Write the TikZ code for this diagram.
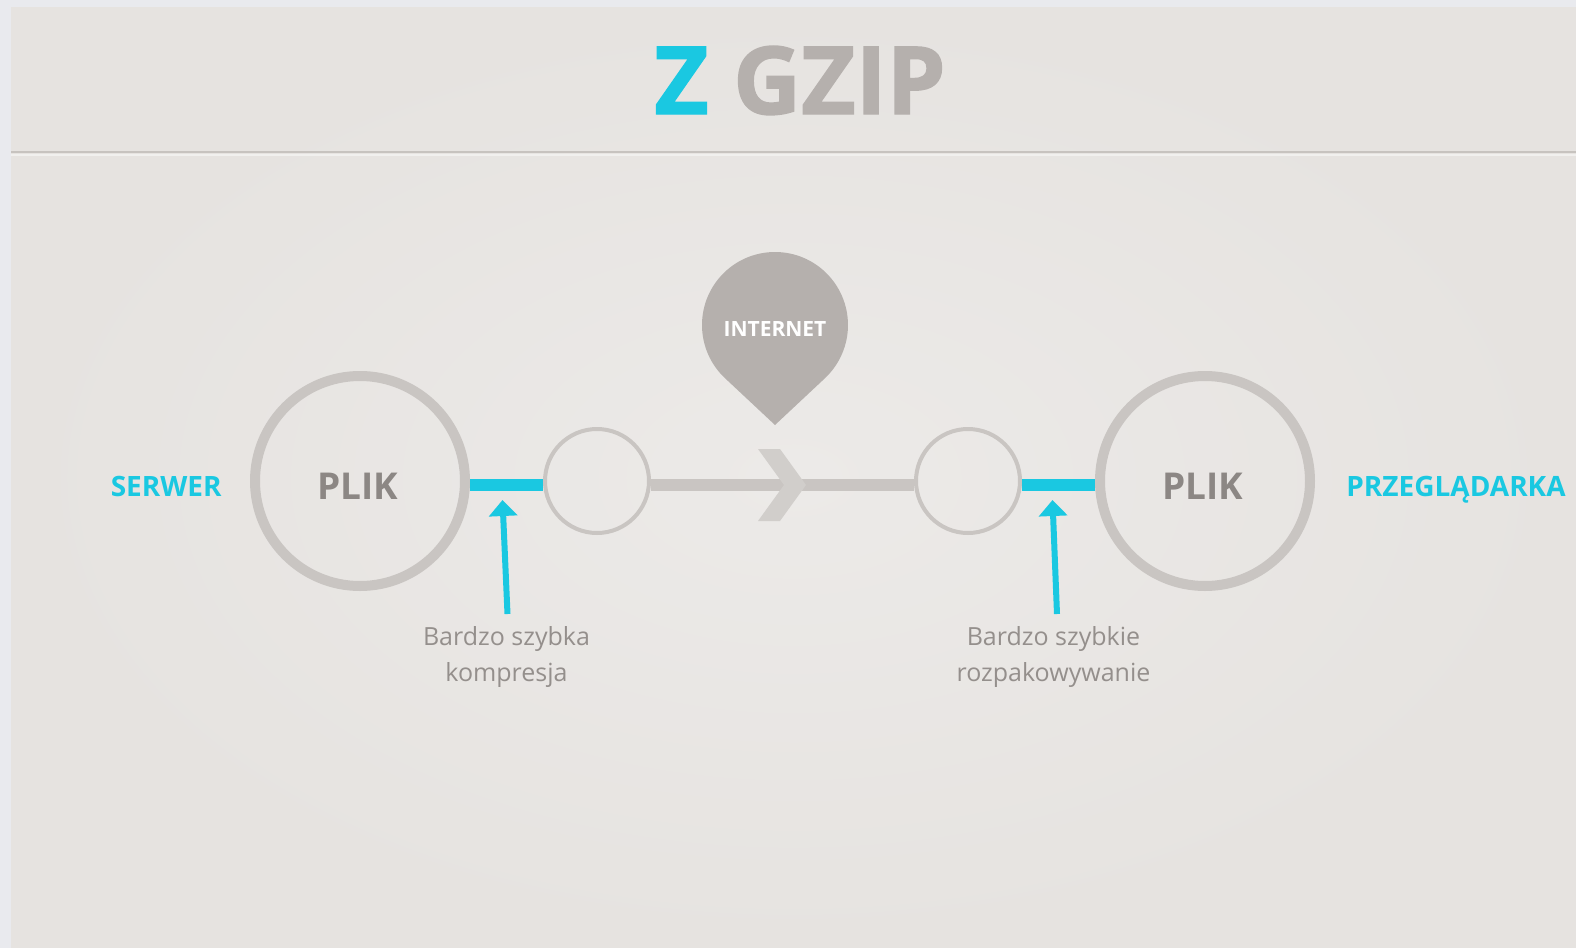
\documentclass[tikz,border=0pt]{standalone}
\usepackage{fontspec}
\setmainfont{Open Sans}
\newfontfamily\titlefont{Open Sans}[BoldFeatures={FakeBold=1.5}]
\usetikzlibrary{arrows.meta, positioning, calc}
\definecolor{zcyan}{HTML}{1AC8E1}
\definecolor{ringgray}{HTML}{C9C5C2}
\definecolor{inkgray}{HTML}{8C8784}
\definecolor{notegray}{HTML}{948F8C}
\definecolor{pingray}{HTML}{B5B0AD}
\definecolor{paper}{HTML}{E6E3E0}
\definecolor{paperlight}{HTML}{ECEAE8}
\definecolor{edgeblue}{HTML}{E9EAEE}
\definecolor{rulegray}{HTML}{C7C3BF}

\begin{document}
\begin{tikzpicture}[
  ring/.style={circle, draw=ringgray, line width=5pt, minimum size=105pt, inner sep=0pt},
  hub/.style={circle, draw=ringgray, line width=2pt, minimum size=52pt, inner sep=0pt},
  filetxt/.style={inner sep=0pt, text depth=0pt, font=\fontsize{18.5}{22}\selectfont\bfseries, text=inkgray},
  tag/.style={inner sep=0pt, text depth=0pt, font=\fontsize{14}{16}\selectfont\bfseries, text=zcyan},
  note/.style={inner sep=0pt, align=center, font=\fontsize{12.5}{18}\selectfont, text=notegray},
  bar/.style={zcyan, line width=6pt},
  wire/.style={ringgray, line width=6pt},
  pointer/.style={zcyan, line width=3pt, -{Triangle[width=14pt, length=8pt]}},
  node distance=36.5pt
]
\useasboundingbox (0,0) rectangle (788pt,-474pt);
\fill[edgeblue] (0,0) rectangle (788pt,-474pt);
\shade[inner color=paperlight, outer color=paper] (5.5pt,-3.5pt) rectangle (788pt,-474pt);
\draw[rulegray, line width=1.3pt] (5.5pt,-76pt) -- (788pt,-76pt);
\draw[white!45!paper, line width=0.8pt] (5.5pt,-77.6pt) -- (788pt,-77.6pt);

\node[font=\fontsize{47}{50}\titlefont\bfseries, text=pingray, inner sep=0pt, text depth=0pt] (title) at (400pt,-40pt) {{\color{zcyan}Z} GZIP};

\node[ring] (srv) at (180pt,-240.5pt) {};
\node[hub, right=of srv] (cmp) {};
\node[hub, right=131.5pt of cmp] (dec) {};
\node[ring, right=of dec] (brw) {};

\node[filetxt] (srvfile) at ([shift={(-1pt,-2.5pt)}]srv) {PLIK};
\node[filetxt] (brwfile) at ([shift={(-1pt,-2.5pt)}]brw) {PLIK};
\node[tag, left=14pt of srv, yshift=-2.5pt] (srvname) {SERWER};
\node[tag, right=15.5pt of brw, yshift=-2.5pt] (brwname) {PRZEGLĄDARKA};

\draw[bar] ([yshift=-2pt]srv.east) -- ([yshift=-2pt]cmp.west);
\draw[bar] ([yshift=-2pt]dec.east) -- ([yshift=-2pt]brw.west);
\draw[wire] ([yshift=-2pt]cmp.east) -- ([yshift=-2pt]dec.west);

\coordinate (mid) at ($(cmp)!0.5!(dec)+(0,-2pt)$);
\fill[ringgray!85!white] ([xshift=11.75pt]mid) -- ++(-13pt,18pt) -- ++(-11pt,0) -- ++(13pt,-18pt)
  -- ++(-13pt,-18pt) -- ++(11pt,0) -- cycle;

\coordinate (pin) at ($(mid)+(-3.75pt,80pt)$);
\fill[pingray] ([shift={(227:36.5pt)}]pin) arc[start angle=227, end angle=-47, radius=36.5pt]
  -- ($(pin)+(0,-50pt)$) -- cycle;
\node[font=\fontsize{10.5}{12}\selectfont\bfseries, text=white, inner sep=0pt] (net) at ([yshift=-2pt]pin) {INTERNET};

\coordinate (cbar) at ($(srv.east)!0.5!(cmp.west)+(0,-2pt)$);
\coordinate (dbar) at ($(dec.east)!0.5!(brw.west)+(0,-2pt)$);
\node[note, below=70.5pt of cbar] (cmpnote) {Bardzo szybka\\kompresja};
\node[note, below=70.5pt of dbar, xshift=-2.5pt] (decnote) {Bardzo szybkie\\rozpakowywanie};
\draw[pointer] ([shift={(0.5pt,6pt)}]cmpnote.north) -- ([shift={(-2pt,-7.5pt)}]cbar);
\draw[pointer] ([shift={(1.75pt,6pt)}]decnote.north) -- ([shift={(-3pt,-7.5pt)}]dbar);
\end{tikzpicture}
\end{document}
